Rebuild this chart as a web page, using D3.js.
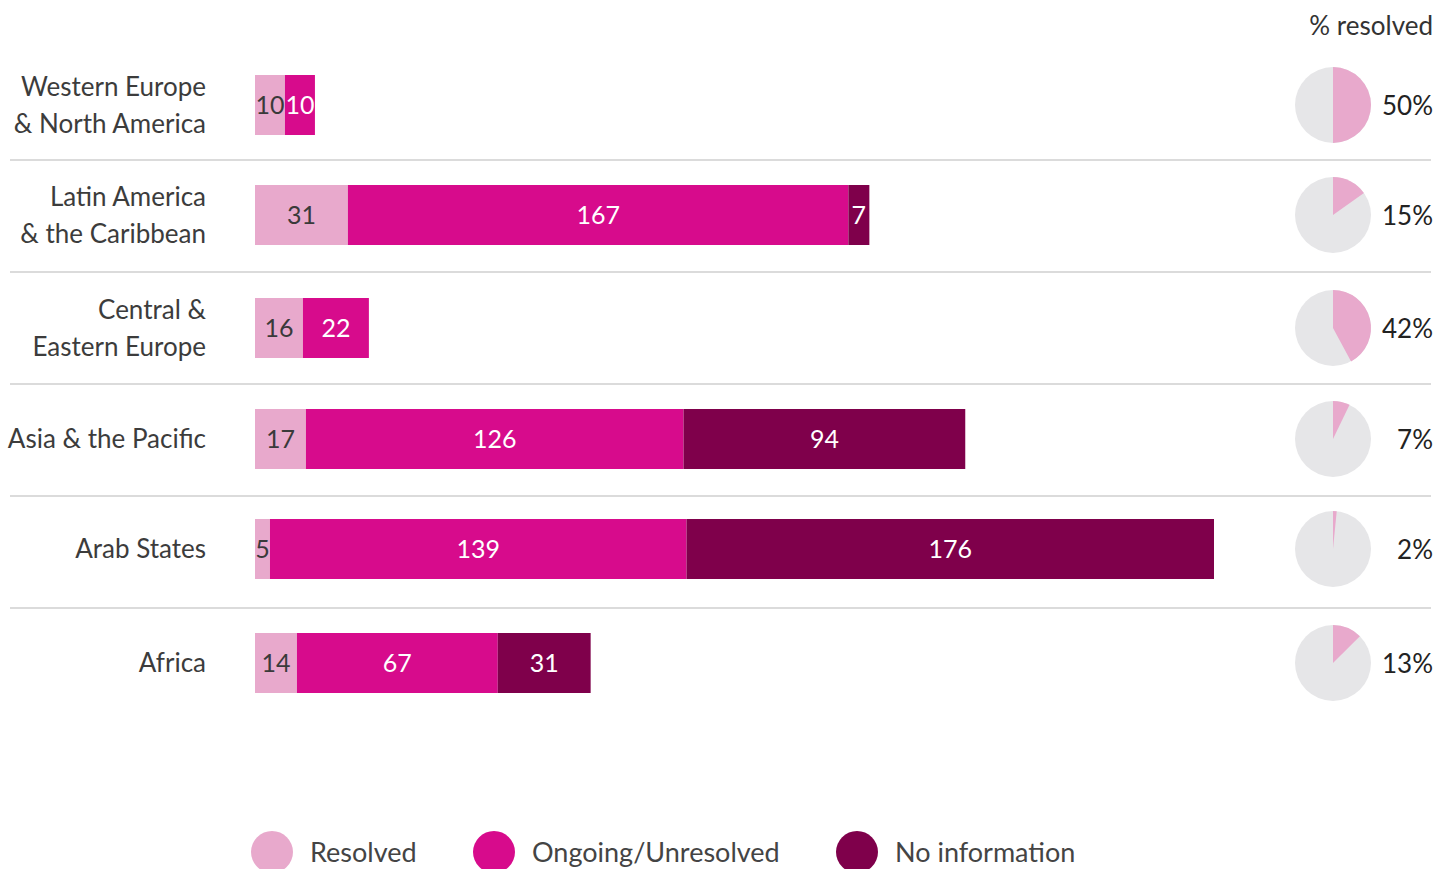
<!DOCTYPE html>
<html><head><meta charset="utf-8">
<script src="https://cdn.jsdelivr.net/npm/d3@7"></script>
<style>body{margin:0;background:#fff}svg{display:block}text{font-family:Lato,"Noto Sans",sans-serif}</style>
</head><body><svg id="c" width="1451" height="869"></svg>
<script>
const regions = [["Western Europe","& North America"],["Latin America","& the Caribbean"],["Central &","Eastern Europe"],["Asia & the Pacific"],["Arab States"],["Africa"]];
const resolved = [10,31,16,17,5,14];
const ongoing = [10,167,22,126,139,67];
const noInfo = [0,7,0,94,176,31];
const seriesNames = ["Resolved","Ongoing/Unresolved","No information"];
const colors = ["#e8a9cc","#d70b8c","#7f004b"];
const textColors = ["#3a3a3a","#ffffff","#ffffff"];
const rowCenters = [105,215,328,439,549,663];

const svg = d3.select("#c");
const data = regions.map((r,i)=>({name:r, v:[resolved[i],ongoing[i],noInfo[i]]}));
const x = d3.scaleLinear().domain([0,320]).range([255,1214]);
const y = d3.scalePoint().domain(d3.range(6)).range([rowCenters[0],rowCenters[5]]);
const yc = i => rowCenters[i];
const barH = 60;

// separators
[160,272,384,496,608].forEach(yy=>svg.append("line").attr("x1",10).attr("x2",1431).attr("y1",yy).attr("y2",yy).attr("stroke","#cfcfcf").attr("stroke-width",1.5));

// labels
data.forEach((d,i)=>{
  const t = svg.append("text").attr("text-anchor","end").attr("x",206).attr("fill","#3c3c3c").attr("font-size",26);
  const n = d.name.length;
  d.name.forEach((line,j)=>{
    t.append("tspan").attr("x",206).attr("y",yc(i) + (j-(n-1)/2)*37 + 9).text(line);
  });
});

// bars
data.forEach((d,i)=>{
  let acc=0;
  d.v.forEach((val,k)=>{
    if(val<=0) return;
    const x0=x(acc), x1=x(acc+val);
    svg.append("rect").attr("x",x0).attr("y",yc(i)-barH/2).attr("width",x1-x0).attr("height",barH).attr("fill",colors[k]);
    svg.append("text").attr("x",(x0+x1)/2).attr("y",yc(i)+9).attr("text-anchor","middle").attr("font-size",25).attr("fill",textColors[k]).text(val);
    acc+=val;
  });
});

// pies
svg.append("text").attr("x",1433).attr("y",35).attr("text-anchor","end").attr("font-size",26).attr("fill","#333").text("% resolved");
const arc = d3.arc().innerRadius(0).outerRadius(38);
data.forEach((d,i)=>{
  const tot = d3.sum(d.v);
  const p = d.v[0]/tot;
  const g = svg.append("g").attr("transform",`translate(1333,${yc(i)})`);
  g.append("circle").attr("r",38).attr("fill","#e6e6e8");
  g.append("path").attr("d",arc({startAngle:0,endAngle:2*Math.PI*p})).attr("fill",colors[0]);
  svg.append("text").attr("x",1433).attr("y",yc(i)+10).attr("text-anchor","end").attr("font-size",26).attr("fill","#222").text(Math.round(p*100)+"%");
});

// legend
const lx=[272,494,857];
seriesNames.forEach((s,k)=>{
  svg.append("circle").attr("cx",lx[k]).attr("cy",852).attr("r",21).attr("fill",colors[k]);
  svg.append("text").attr("x",lx[k]+38).attr("y",862).attr("font-size",27).attr("fill","#444").text(s);
});
</script></body></html>
